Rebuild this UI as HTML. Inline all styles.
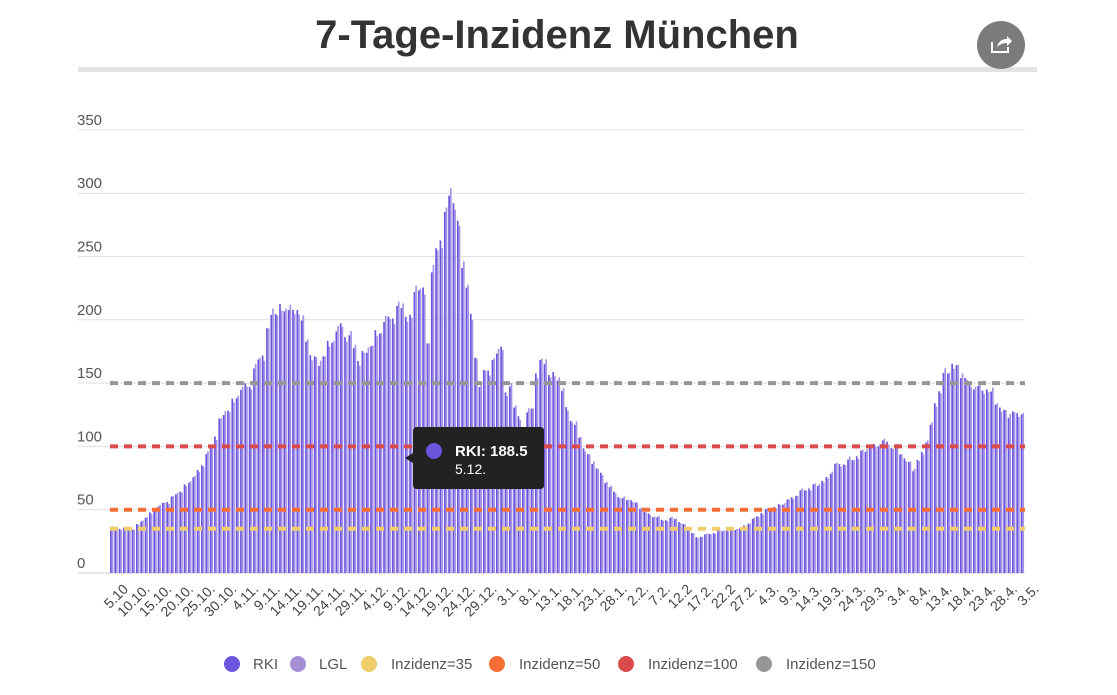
<!DOCTYPE html>
<html><head><meta charset="utf-8">
<style>
body{margin:0;background:#fff;width:1117px;height:690px;overflow:hidden;font-family:"Liberation Sans",sans-serif;}
</style></head><body>
<svg id="s" width="1117" height="690" xmlns="http://www.w3.org/2000/svg" font-family="Liberation Sans, sans-serif">
<text x="557" y="48" text-anchor="middle" font-size="40" font-weight="bold" fill="#333">7-Tage-Inzidenz München</text>
<rect x="78" y="67" width="959" height="5" fill="#e3e3e3"/>
<circle cx="1001" cy="45" r="24" fill="#7b7b7b"/>
<path d="M992 42 v10 h16 v-5" stroke="#fff" stroke-width="2" fill="none"/>
<path d="M997 47 q2 -8 10 -8 v-3 l5 5 l-5 5 v-3 q-6 0 -10 4z" fill="#fff"/>
<g id="grid"></g>
<g id="bars"></g>
<g id="refs"></g>
<g id="xl" font-size="14" fill="#444"></g>
<g>
<path d="M413 431 q0 -4 4 -4 h123 q4 0 4 4 v54 q0 4 -4 4 h-123 q-4 0 -4 -4 v-22 l-8 -5 l8 -5z" fill="#222"/>
<circle cx="434" cy="451" r="8" fill="#6a55dc"/>
<text x="455" y="456" font-size="15" font-weight="bold" fill="#fff">RKI: 188.5</text>
<text x="455" y="474" font-size="14" fill="#fff">5.12.</text>
</g>
<g font-size="15" fill="#555">
<circle cx="232" cy="664" r="8" fill="#6a55dc"/><text x="253" y="669">RKI</text>
<circle cx="298" cy="664" r="8" fill="#a68fd8"/><text x="319" y="669">LGL</text>
<circle cx="369" cy="664" r="8" fill="#f0cd6a"/><text x="391" y="669">Inzidenz=35</text>
<circle cx="497" cy="664" r="8" fill="#f76d35"/><text x="519" y="669">Inzidenz=50</text>
<circle cx="626" cy="664" r="8" fill="#db4b4b"/><text x="648" y="669">Inzidenz=100</text>
<circle cx="764" cy="664" r="8" fill="#969696"/><text x="786" y="669">Inzidenz=150</text>
</g>
</svg>
<script>
var NS="http://www.w3.org/2000/svg";
function el(p,t,a,txt){var e=document.createElementNS(NS,t);for(var k in a)e.setAttribute(k,a[k]);if(txt)e.textContent=txt;document.getElementById(p).appendChild(e);return e;}
var Y=function(v){return 573-v*1.266;};
for(var v=0;v<=350;v+=50){var y=Y(v);if(v>0)el("grid","line",{x1:78,x2:1025,y1:y,y2:y,stroke:"#e0e0e0","stroke-width":1});
el("grid","text",{x:77,y:y-5,"font-size":15,fill:"#555"},String(v));}
el("grid","line",{x1:78,x2:1025,y1:573,y2:573,stroke:"#ccc"});
var kp=[[0,36],[5,35],[10,50],[15,62],[18,72],[20,80],[23,100],[25,120],[28,135],[30,145],[32,150],[33,160],[35,175],[37,205],[40,210],[42,205],[43,212],[45,182],[47,168],[48,165],[50,180],[53,195],[55,185],[57,170],[58,172],[60,180],[61,188.5],[65,205],[67,210],[69,200],[70,225],[72,222],[73,185],[74,235],[75,255],[77,280],[78,300],[79,295],[80,273],[81,245],[82,225],[83,202],[85,145],[86,160],[88,165],[89,175],[90,180],[91,140],[92,150],[93,130],[95,115],[96,125],[97,130],[98,160],[99,165],[100,167],[101,157],[103,155],[105,130],[107,115],[110,92],[113,78],[115,67],[118,58],[120,58],[123,48],[125,45],[127,42],[130,43],[132,38],[135,28],[137,30],[140,33],[145,35],[148,42],[150,48],[155,55],[158,62],[160,66],[163,70],[165,75],[167,85],[170,88],[173,95],[175,100],[179,104],[180,100],[182,95],[185,82],[187,95],[189,115],[190,135],[192,155],[194,165],[195,162],[197,152],[200,145],[202,146],[205,130],[207,125],[210,127]];
function val(d){for(var i=0;i<kp.length-1;i++){if(d>=kp[i][0]&&d<=kp[i+1][0]){var t=(d-kp[i][0])/(kp[i+1][0]-kp[i][0]||1);return kp[i][1]+t*(kp[i+1][1]-kp[i][1]);}}return 127;}
var x0=110,dx=(1025-110)/211;
for(var d=0;d<211;d++){var v=val(d)*(1+0.02*Math.sin(d*2.3));var x=x0+d*dx;
el("bars","rect",{x:x,y:Y(v),width:1.7,height:573-Y(v),fill:"#6a55dc"});
var v2=v*(1+0.025*Math.cos(d*1.7));
el("bars","rect",{x:x+1.7,y:Y(v2),width:1.7,height:573-Y(v2),fill:"#a893e6"});}
[[150,"#969696"],[100,"#db4b4b"],[50,"#f76d35"],[35,"#f0cd6a"]].forEach(function(r){var y=Y(r[0]);
el("refs","line",{x1:110,x2:1025,y1:y,y2:y,stroke:r[1],"stroke-width":4,"stroke-dasharray":"8 6"});});
var labs="5.10,10.10.,15.10.,20.10.,25.10.,30.10.,4.11.,9.11.,14.11.,19.11.,24.11.,29.11.,4.12.,9.12.,14.12.,19.12.,24.12.,29.12.,3.1.,8.1.,13.1.,18.1.,23.1.,28.1.,2.2.,7.2.,12.2,17.2.,22.2,27.2.,4.3.,9.3.,14.3.,19.3.,24.3.,29.3.,3.4.,8.4.,13.4.,18.4.,23.4.,28.4.,3.5.".split(",");
labs.forEach(function(l,i){var x=x0+i*5*dx+19,y=590;
el("xl","text",{x:x,y:y,"text-anchor":"end",transform:"rotate(-45 "+x+" "+y+")"},l);});
</script>
</body></html>
